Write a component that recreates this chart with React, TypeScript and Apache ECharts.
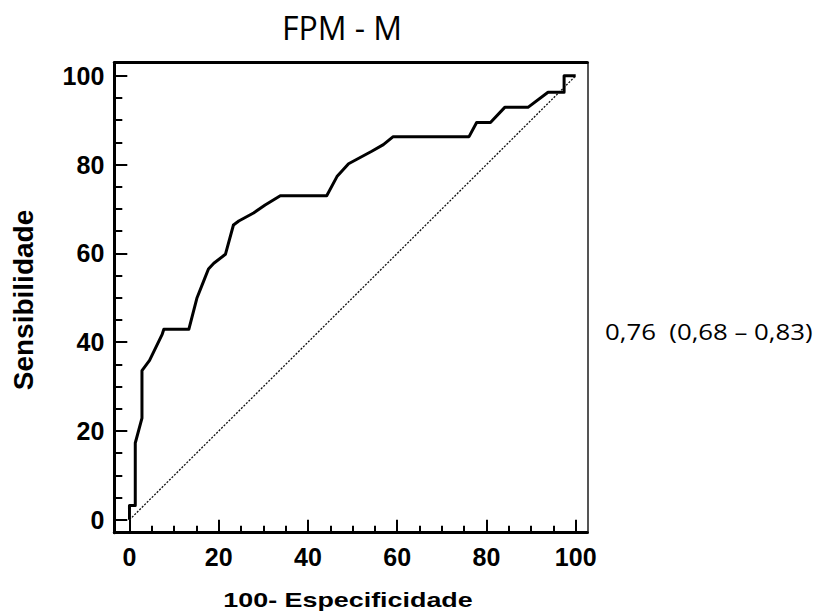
import React, { useEffect, useRef } from "react";
import * as echarts from "echarts";

// ROC curve points (100 - specificity, sensitivity)
const fpr = [0, 0, 1.3, 1.3, 2.8, 2.8, 4.5, 7.3, 7.7, 13.3, 15.1, 16.8, 17.7, 18.9, 21.5, 23.3, 24.5, 27.8, 30.4, 33.8, 44.2, 46.5, 49.1, 54.3, 56.9, 59.1, 76.1, 77.8, 80.9, 84.1, 89.3, 93.8, 97.4, 97.4, 100];
const tpr = [0, 3.2, 3.2, 17.3, 22.9, 33.6, 35.9, 41.7, 42.9, 42.9, 49.9, 54.2, 56.5, 57.8, 59.8, 66.4, 67.3, 69.1, 70.9, 73, 73, 77.3, 80.2, 83, 84.5, 86.3, 86.3, 89.5, 89.5, 92.9, 92.9, 96.3, 96.3, 100, 100];
const diagX = [0, 100];
const diagY = [0, 100];

const majorTicks = [0, 20, 40, 60, 80, 100];
const minorTicks = [5, 10, 15, 25, 30, 35, 45, 50, 55, 65, 70, 75, 85, 90, 95];

const titleText = "FPM - M";
const xName = "100- Especificidade";
const yName = "Sensibilidade";
const aucText = "0,76  (0,68 – 0,83)";

const X_MIN = -3.4;
const X_MAX = 102.6;
const Y_MIN = -2.9;
const Y_MAX = 103;

export default function App() {
  const ref = useRef<HTMLDivElement>(null);
  useEffect(() => {
    document.body.style.margin = "0";
    if (!ref.current) return;
    const chart = echarts.init(ref.current, null, { renderer: "svg" });
    const labelFont = {
      fontFamily: "Liberation Sans, Arial, sans-serif",
      fontWeight: "bold" as const,
      fontSize: 25,
      color: "#000",
    };
    const baseX = { type: "value" as const, min: X_MIN, max: X_MAX, splitLine: { show: false } };
    const baseY = { type: "value" as const, min: Y_MIN, max: Y_MAX, splitLine: { show: false } };
    chart.setOption({
      animation: false,
      grid: { left: 114.3, top: 62.5, width: 473, height: 470.2, containLabel: false },
      xAxis: [
        {
          ...baseX,
          position: "bottom",
          axisLine: { show: true, onZero: false, lineStyle: { color: "#000", width: 3 } },
          axisTick: { show: true, inside: true, length: 13, customValues: majorTicks, lineStyle: { color: "#000", width: 2 } },
          axisLabel: { show: true, customValues: majorTicks, margin: 12, ...labelFont },
        },
        {
          ...baseX,
          position: "bottom",
          axisLine: { show: false, onZero: false },
          axisTick: { show: true, inside: true, length: 7, customValues: minorTicks, lineStyle: { color: "#000", width: 2 } },
          axisLabel: { show: false },
        },
        {
          ...baseX,
          position: "top",
          axisLine: { show: true, onZero: false, lineStyle: { color: "#000", width: 3 } },
          axisTick: { show: false },
          axisLabel: { show: false },
        },
      ],
      yAxis: [
        {
          ...baseY,
          position: "left",
          axisLine: { show: true, onZero: false, lineStyle: { color: "#000", width: 3 } },
          axisTick: { show: true, inside: true, length: 13, customValues: majorTicks, lineStyle: { color: "#000", width: 2 } },
          axisLabel: { show: true, customValues: majorTicks, margin: 10, ...labelFont },
        },
        {
          ...baseY,
          position: "left",
          axisLine: { show: false, onZero: false },
          axisTick: { show: true, inside: true, length: 8, customValues: minorTicks, lineStyle: { color: "#000", width: 2 } },
          axisLabel: { show: false },
        },
        {
          ...baseY,
          position: "right",
          axisLine: { show: true, onZero: false, lineStyle: { color: "#555", width: 2 } },
          axisTick: { show: false },
          axisLabel: { show: false },
        },
      ],
      series: [
        {
          type: "line",
          xAxisIndex: 0,
          yAxisIndex: 0,
          data: diagX.map((x, i) => [x, diagY[i]]),
          showSymbol: false,
          symbol: "none",
          lineStyle: { color: "#111", width: 1.3, type: [2, 1.5] },
          silent: true,
          z: 2,
        },
        {
          type: "line",
          xAxisIndex: 0,
          yAxisIndex: 0,
          data: fpr.map((x, i) => [x, tpr[i]]),
          showSymbol: false,
          symbol: "none",
          lineStyle: { color: "#000", width: 3, join: "round" },
          silent: true,
          z: 3,
        },
      ],
      graphic: [
        {
          type: "text",
          x: 342,
          y: 27,
          style: {
            text: titleText,
            fontFamily: "Open Sans, Noto Sans, sans-serif",
            fontSize: 32,
            fill: "#000",
            align: "center",
            verticalAlign: "middle",
          },
        },
        {
          type: "text",
          x: 605,
          y: 332,
          scaleX: 1.2,
          style: {
            text: aucText,
            fontFamily: "Open Sans, Noto Sans, sans-serif",
            fontSize: 21.5,
            fill: "#000",
            align: "left",
            verticalAlign: "middle",
          },
        },
        {
          type: "text",
          x: 348,
          y: 600,
          scaleX: 1.28,
          style: {
            text: xName,
            fontFamily: "Liberation Sans, Arial, sans-serif",
            fontWeight: "bold",
            fontSize: 21,
            fill: "#000",
            align: "center",
            verticalAlign: "middle",
          },
        },
        {
          type: "text",
          x: 23,
          y: 300,
          rotation: Math.PI / 2,
          style: {
            text: yName,
            fontFamily: "Liberation Sans, Arial, sans-serif",
            fontWeight: "bold",
            fontSize: 28,
            fill: "#000",
            align: "center",
            verticalAlign: "middle",
          },
        },
      ],
    });
    return () => chart.dispose();
  }, []);
  return <div ref={ref} style={{ width: 823, height: 614 }} />;
}
